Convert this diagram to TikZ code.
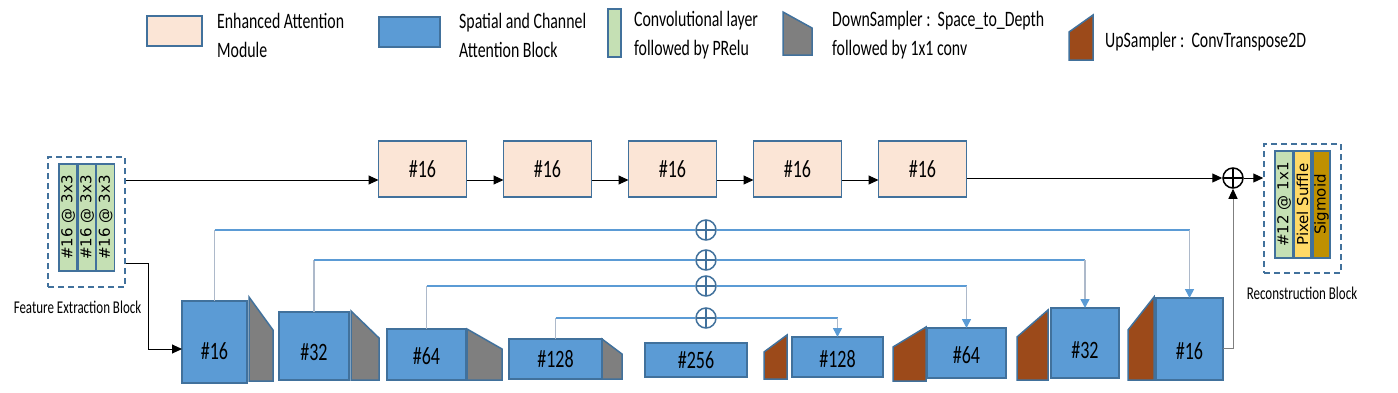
\documentclass[tikz,border=0pt]{standalone}
\usepackage{fontspec}
\setmainfont{Carlito}[FakeStretch=0.72]
\newfontfamily\barfont{DejaVu Sans}
\usepackage{tikz}
\usetikzlibrary{positioning,arrows.meta,calc}
\definecolor{edg}{HTML}{41719C}
\definecolor{eamc}{HTML}{FBE5D6}
\definecolor{scab}{HTML}{5B9BD5}
\definecolor{cnv}{HTML}{C5E0B4}
\definecolor{dsc}{HTML}{7F7F7F}
\definecolor{usc}{HTML}{9C4A1A}
\definecolor{pxs}{HTML}{FFD966}
\definecolor{sgm}{HTML}{BF9000}
\definecolor{skp}{HTML}{5B9BD5}
\definecolor{skvc}{HTML}{ADB9CA}

\begin{document}
\begin{tikzpicture}[x=1pt, y=-1pt,
  node distance=37pt,
  blk/.style={draw=edg, line width=1.5pt, inner sep=0pt, outer sep=0pt, font=\fontsize{25}{28}\selectfont},
  eam/.style={blk, fill=eamc, minimum width=88pt, minimum height=56pt},
  sca/.style={blk, fill=scab},
  txo/.style={text height=#1, text depth=0pt},
  bar/.style={draw=edg, line width=1.2pt, rotate=90, inner sep=0pt, outer sep=0pt, minimum width=107pt, font=\barfont\fontsize{15}{17}\selectfont},
  dsmp/.style={draw=edg, line width=1.5pt, fill=dsc},
  usmp/.style={draw=edg, line width=1.5pt, fill=usc},
  grp/.style={draw=edg, line width=1.5pt, dash pattern=on 6pt off 4pt, inner sep=0pt},
  lgd/.style={anchor=west, align=left, font=\fontsize{22}{29}\selectfont, inner sep=0pt},
  lbl/.style={font=\fontsize{18}{20}\selectfont, inner sep=0pt},
  plus/.style={circle, draw=#1, line width=1.5pt, minimum size=20pt, inner sep=0pt, path picture={\draw[#1, line width=1.5pt] (path picture bounding box.north) -- (path picture bounding box.south) (path picture bounding box.west) -- (path picture bounding box.east);}},
  plus/.default=edg,
  arr/.style={-{Triangle[length=10pt,width=9pt,color=black]}, line width=1pt},
  skh/.style={skp, line width=1.2pt},
  skv/.style={skvc, line width=1.5pt}]
\useasboundingbox (0,0) rectangle (1398,392);
\node[eam, minimum width=55pt, minimum height=30pt] (leam) at (174.5,31) {};
\node[lgd] (team) at (217,35) {Enhanced Attention\\Module};
\node[sca, minimum width=61pt, minimum height=30pt] (lsca) at (409.5,32) {};
\node[lgd] (tsca) at (459,35) {Spatial and Channel\\Attention Block};
\node[draw=edg, line width=1.5pt, fill=cnv, minimum width=13pt, minimum height=48pt, inner sep=0pt] (lcnv) at (614.5,33) {};
\node[lgd] (tcnv) at (634,35) {Convolutional layer\\followed by PRelu};
\draw[dsmp] (783,12) -- (812,28) -- (812,55) -- (783,55) -- cycle;
\node[lgd] (tdsm) at (832,35) {DownSampler :\ \ Space\_to\_Depth\\followed by 1x1 conv};
\draw[usmp] (1069,32) -- (1093,15) -- (1093,60) -- (1069,60) -- cycle;
\node[lgd] (tusm) at (1105,42) {UpSampler :\ \ ConvTranspose2D};

\node[grp, minimum width=77pt, minimum height=130pt] (fe) at (86.5,222) {};
\node[bar, fill=cnv, minimum height=18pt] (c1) at (68,217.5) {\#16 @ 3x3};
\node[bar, fill=cnv, minimum height=18pt] (c2) at (87,217.5) {\#16 @ 3x3};
\node[bar, fill=cnv, minimum height=18pt] (c3) at (105.5,217.5) {\#16 @ 3x3};
\node[lbl] (tfe) at (77.5,307) {Feature Extraction Block};

\node[eam] (a1) at (422.5,169) {\#16};
\node[eam, right=of a1] (a2) {\#16};
\node[eam, right=of a2] (a3) {\#16};
\node[eam, right=of a3] (a4) {\#16};
\node[eam, right=of a4] (a5) {\#16};
\node[plus=black] (sum) at (1233,178) {};

\node[grp, minimum width=77pt, minimum height=129pt] (rec) at (1302.5,208.5) {};
\node[bar, fill=cnv, minimum height=18pt] (r1) at (1284,204.5) {\#12 @ 1x1};
\node[bar, fill=pxs, minimum height=17pt] (r2) at (1302.5,204.5) {Pixel Suffle};
\node[bar, fill=sgm, minimum height=17pt] (r3) at (1321.5,204.5) {Sigmoid};
\node[lbl] (trec) at (1302,293) {Reconstruction Block};

\node[sca, txo=35pt, minimum width=65pt, minimum height=82pt] (e1) at (214.5,342) {\#16};
\node[sca, txo=29pt, minimum width=70pt, minimum height=68pt] (e2) at (314,346) {\#32};
\node[sca, txo=20pt, minimum width=79pt, minimum height=51pt] (e3) at (426.5,354.5) {\#64};
\node[sca, minimum width=93pt, minimum height=40pt] (e4) at (555.5,359) {\#128};
\node[sca, minimum width=102pt, minimum height=34pt] (bn) at (696,360) {\#256};
\node[sca, txo=21pt, minimum width=91pt, minimum height=40pt] (d4) at (837.5,357) {\#128};
\node[sca, txo=21pt, minimum width=79pt, minimum height=50pt] (d3) at (966.5,353) {\#64};
\node[sca, txo=31pt, minimum width=68pt, minimum height=70pt] (d2) at (1085,343) {\#32};
\node[sca, txo=41pt, minimum width=67pt, minimum height=82pt] (d1) at (1189.5,339) {\#16};

\draw[dsmp] (249,297) -- (273,330) -- (273,381) -- (249,381) -- cycle;
\draw[dsmp] (351,311) -- (379,338) -- (379,380) -- (351,380) -- cycle;
\draw[dsmp] (467,329) -- (502,349) -- (502,380) -- (467,380) -- cycle;
\draw[dsmp] (602,339) -- (622,354) -- (622,379) -- (602,379) -- cycle;
\draw[usmp] (764,352) -- (787,335) -- (787,379) -- (764,379) -- cycle;
\draw[usmp] (893,347) -- (926,327) -- (926,381) -- (893,381) -- cycle;
\draw[usmp] (1017,337) -- (1048,310) -- (1048,380) -- (1017,380) -- cycle;
\draw[usmp] (1128,330) -- (1154,297) -- (1154,380) -- (1128,380) -- cycle;

\node[plus] (p1) at (706,230) {};
\node[plus] (p2) at (706,260) {};
\node[plus] (p3) at (706,286) {};
\node[plus] (p4) at (706,318) {};

\coordinate (in1) at ([yshift=-11pt]a1.west);
\draw[arr] (in1 -| fe.east) -- (in1);
\foreach \a/\b in {a1/a2,a2/a3,a3/a4,a4/a5} \draw[arr] ([yshift=-11pt]\a.east) -- ([yshift=-11pt]\b.west);
\draw[arr] (a5.east |- sum) -- (sum.west);
\draw[arr] (sum.east) -- (sum.east -| rec.west);
\draw[arr] ([yshift=-41pt]fe.east) -- ++(23,0) |- ([yshift=-7pt]e1.west);
\draw[arr, draw=dsc] ([yshift=-9pt]d1.east) -| (sum.south);
\foreach \e/\p/\d in {e1/p1/d1,e2/p2/d2,e3/p3/d3,e4/p4/d4} {
  \draw[skv] (\e.north) -- (\e.north |- \p);
  \draw[skh] (\e.north |- \p) -- (\p.west) (\p.east) -- (\d.north |- \p);
  \draw[skv, -{Triangle[length=9pt,width=9pt,color=skp]}] (\d.north |- \p) -- (\d.north);
}
\end{tikzpicture}
\end{document}
